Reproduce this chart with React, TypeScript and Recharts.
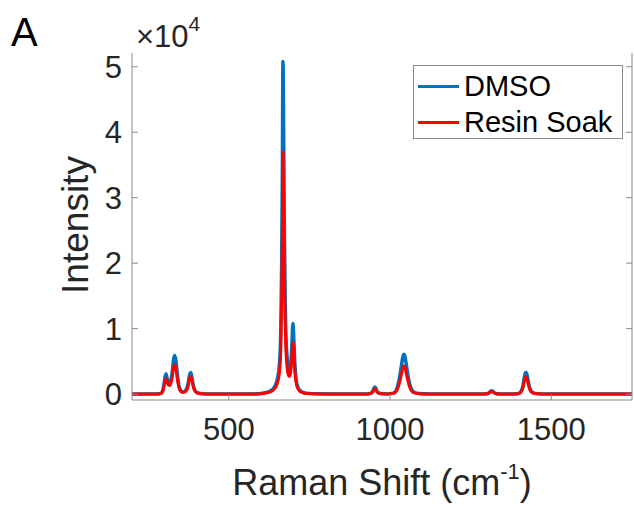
import React from 'react';
import {
  LineChart,
  Line,
  XAxis,
  YAxis,
  Legend,
  Label
} from 'recharts';

// Raman shift (cm^-1)
const shift = [
  200, 250, 280, 290, 295, 300, 305, 309, 313, 317, 321, 325, 329, 333, 337, 341, 346, 351, 356, 361,
  366, 371, 375, 379, 382, 385, 389, 394, 400, 410, 430, 500, 580, 620, 635, 645, 652, 657, 661, 664,
  666, 668, 670, 672, 675, 678, 681, 684, 687, 690, 693, 696, 699, 702, 705, 709, 714, 720, 728, 740,
  780, 850, 930, 940, 946, 950, 953, 956, 960, 966, 975, 990, 1010, 1018, 1025, 1031, 1036, 1040, 1043, 1046,
  1050, 1055, 1061, 1068, 1076, 1090, 1120, 1290, 1303, 1310, 1315, 1320, 1327, 1340, 1390, 1400, 1407, 1412, 1416, 1419,
  1422, 1425, 1429, 1434, 1440, 1450, 1470, 1550, 1650, 1750
];

const dmso = [
  0, 0, 30, 150, 500, 1800, 3100, 2400, 1700, 1600, 2200, 3500, 5300, 5900, 4800, 2800, 1200, 550, 350, 350,
  550, 1000, 1900, 3000, 3300, 2800, 1600, 700, 300, 100, 30, 0, 20, 300, 700, 1400, 2600, 4600, 9000, 20000,
  33000, 50800, 41000, 27000, 14000, 8000, 5500, 4000, 3200, 3600, 5000, 8000, 10800, 8000, 4500, 2200, 1100, 600, 300, 150,
  40, 0, 30, 150, 400, 900, 1100, 900, 400, 150, 50, 30, 150, 500, 1500, 3000, 4600, 5800, 6100, 5800,
  4600, 3000, 1500, 600, 250, 80, 20, 20, 100, 350, 500, 350, 100, 20, 40, 150, 500, 1300, 2500, 3200,
  3300, 2800, 1800, 800, 300, 100, 30, 0, 0, 0
];

const resinSoak = [
  0, 0, 20, 110, 380, 1350, 2400, 1850, 1350, 1300, 1750, 2700, 4100, 4500, 3700, 2150, 920, 420, 270, 270,
  420, 770, 1500, 2450, 2700, 2300, 1300, 560, 230, 80, 20, 0, 15, 220, 510, 1020, 1900, 3360, 6600, 14600,
  24100, 37000, 29900, 19700, 10200, 5900, 4000, 3000, 2700, 2900, 3900, 6000, 7900, 5900, 3400, 1700, 850, 450, 230, 110,
  30, 0, 20, 110, 300, 700, 850, 700, 300, 110, 40, 20, 110, 350, 1050, 2100, 3250, 4100, 4300, 4100,
  3250, 2100, 1050, 420, 180, 60, 15, 15, 80, 280, 400, 280, 80, 15, 30, 120, 400, 1000, 1950, 2500,
  2600, 2200, 1400, 630, 240, 80, 20, 0, 0, 0
];

const xTicks = [500, 1000, 1500];
const yTicks = [0, 10000, 20000, 30000, 40000, 50000];

const data = shift.map((s, i) => ({ shift: s, dmso: dmso[i], resin: resinSoak[i] }));

const FONT = '"Liberation Sans", Arial, sans-serif';
const TEXT = '#262626';
const AXIS = '#8a8a8a';

const LegendBox = (props: any) => {
  const { payload = [] } = props;
  return (
    <div
      style={{
        border: '1px solid #8a8a8a',
        background: '#fff',
        width: 210,
        height: 74,
        boxSizing: 'border-box',
        fontFamily: FONT,
        fontSize: 29,
        color: '#000',
        paddingTop: 2
      }}
    >
      {payload.map((p: any) => (
        <div key={p.value} style={{ display: 'flex', alignItems: 'center', height: 36 }}>
          <div style={{ width: 41, height: 3, background: p.color, marginLeft: 4, marginRight: 5 }} />
          <span style={{ lineHeight: '36px' }}>{p.value}</span>
        </div>
      ))}
    </div>
  );
};

export default function App() {
  return (
    <div style={{ position: 'absolute', left: 0, top: 0, width: 634, height: 506, background: '#fff' }}>
      <LineChart
        width={634}
        height={506}
        data={data}
        margin={{ top: 53, right: 0, left: 0, bottom: 0 }}
        style={{ fontFamily: FONT }}
      >
        <XAxis
          dataKey="shift"
          type="number"
          domain={[200, 1750]}
          ticks={xTicks}
          allowDataOverflow
          height={106}
          stroke={AXIS}
          tickSize={-6}
          tickMargin={24}
          tick={{ fill: TEXT, fontSize: 31, fontFamily: FONT }}
        >
          <Label
            content={() => (
              <text x={382} y={495} textAnchor="middle" fill={TEXT} fontSize={36} fontFamily={FONT}>
                Raman Shift (cm
                <tspan dy={-16} fontSize={22}>-1</tspan>
                <tspan dy={16}>)</tspan>
              </text>
            )}
          />
        </XAxis>
        <XAxis
          xAxisId="top"
          orientation="top"
          dataKey="shift"
          type="number"
          domain={[200, 1750]}
          ticks={xTicks}
          allowDataOverflow
          height={0}
          stroke={AXIS}
          tickSize={-6}
          tickFormatter={() => ''}
        />
        <YAxis
          type="number"
          domain={[-900, 52100]}
          ticks={yTicks}
          allowDataOverflow
          width={132}
          stroke={AXIS}
          tickSize={-6}
          tickMargin={16}
          tickFormatter={(v: number) => String(v / 10000)}
          tick={{ fill: TEXT, fontSize: 31, fontFamily: FONT }}
        >
          <Label
            content={() => (
              <g>
                <text
                  x={88}
                  y={225}
                  transform="rotate(-90, 88, 225)"
                  textAnchor="middle"
                  fill={TEXT}
                  fontSize={37}
                  fontFamily={FONT}
                >
                  Intensity
                </text>
                <text x={136} y={47} fill={TEXT} fontSize={31} fontFamily={FONT}>
                  ×10
                  <tspan dy={-16} fontSize={21}>4</tspan>
                </text>
                <text x={11} y={46} fill="#000" fontSize={40} fontFamily={FONT}>
                  A
                </text>
              </g>
            )}
          />
        </YAxis>
        <YAxis
          yAxisId="right"
          orientation="right"
          type="number"
          domain={[-900, 52100]}
          ticks={yTicks}
          allowDataOverflow
          width={2}
          stroke={AXIS}
          tickSize={-6}
          tickFormatter={() => ''}
        />
        <Legend
          layout="horizontal"
          verticalAlign="middle"
          align="center"
          content={<LegendBox />}
          wrapperStyle={{ position: 'absolute', left: 413, top: 65, width: 210, height: 74 }}
        />
        <Line
          name="DMSO"
          dataKey="dmso"
          type="monotone"
          stroke="#0072BD"
          strokeWidth={3.5}
          dot={false}
          isAnimationActive={false}
        />
        <Line
          name="Resin Soak"
          dataKey="resin"
          type="monotone"
          stroke="#FF0000"
          strokeWidth={3}
          dot={false}
          isAnimationActive={false}
        />
      </LineChart>
    </div>
  );
}
